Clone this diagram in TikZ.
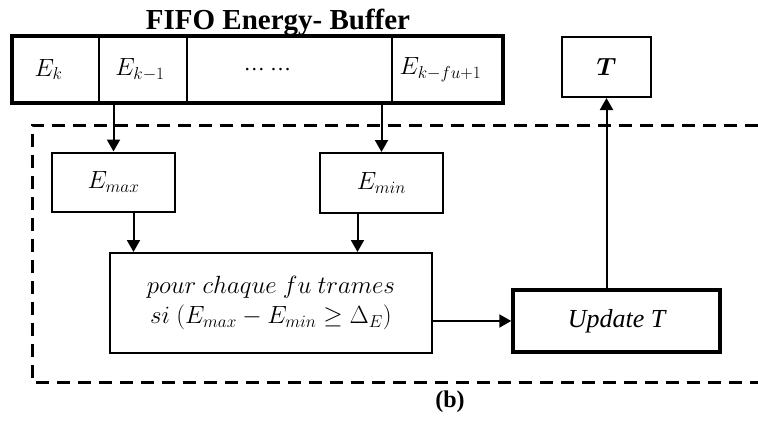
\documentclass[tikz,border=0pt]{standalone}
\usepackage{amsmath}
\usepackage{fontspec}
\setmainfont{Liberation Serif}
\usetikzlibrary{arrows.meta,calc}
\begin{document}
\begin{tikzpicture}[x=1pt,y=-1pt,
  cell/.style={draw,line width=1.5pt,minimum height=67pt,inner sep=0pt,font=\fontsize{24}{28}\selectfont},
  blk/.style={draw,line width=2pt,inner sep=0pt,fill=white},
  arr/.style={line width=2pt,-{Triangle[length=12pt,width=13pt]}},
  bigtxt/.style={font=\fontsize{25}{30}\selectfont}]
\useasboundingbox (0,0) rectangle (758,423);
% dashed processing frame, open on the right
\draw[line width=3pt,dash pattern=on 13pt off 8pt] (758,125) -- (32,125) -- (32,382) -- (758,382);
% title
\node[font=\fontsize{29}{32}\selectfont\bfseries] (title) at (278,22) {FIFO Energy- Buffer};
% energy buffer cells
\node[cell,minimum width=87pt]  (c1) at (55.5,69.5)  {$E_k$\hspace*{14pt}};
\node[cell,minimum width=88pt]  (c2) at (143,69.5)   {$E_{k-1}$\hspace*{6pt}};
\node[cell,minimum width=205pt] (c3) at (289.5,69.5) {\fontsize{21}{24}\selectfont …\ …\hspace*{44pt}};
\node[cell,minimum width=111pt] (c4) at (447.5,69.5) {$E_{k-fu+1}$\hspace*{14pt}};
\node[draw,line width=4pt,minimum width=491pt,minimum height=67pt,inner sep=0pt] (buf) at (257.5,69.5) {};
% output
\node[blk,minimum width=89pt,minimum height=60pt,font=\fontsize{26}{30}\selectfont] (t) at (606.5,67) {$\boldsymbol{T}$};
% extremes
\node[blk,minimum width=123pt,minimum height=59pt,font=\fontsize{27}{30}\selectfont] (emax) at (113.5,182) {$E_{max}$};
\node[blk,minimum width=123pt,minimum height=60pt,font=\fontsize{27}{30}\selectfont] (emin) at (381.5,183) {$E_{min}$};
% condition
\node[blk,minimum width=322pt,minimum height=100pt,bigtxt,align=center] (cond) at (271,303)
  {$pour\ chaque\ fu\ trames$\\[0pt] $si\ (E_{max}-E_{min}\geq\Delta_E)$};
% update
\node[draw,line width=3.5pt,minimum width=207pt,minimum height=62pt,inner sep=0pt,fill=white,
  font=\fontsize{26}{30}\selectfont\itshape] (upd) at (616.5,321) {Update T};
% caption
\node[font=\fontsize{24}{28}\selectfont\bfseries] (cap) at (450,402) {(b)};
% connectors
\draw[arr] (buf.south -| emax.north) -- (emax.north);
\draw[arr] (buf.south -| emin.north) -- (emin.north);
\draw[arr] ([xshift=20pt]emax.south) -- ([xshift=20pt]emax.south |- cond.north);
\draw[arr] ([xshift=-24pt]emin.south) -- ([xshift=-24pt]emin.south |- cond.north);
\draw[arr] (cond.east |- upd.west) -- (upd.west);
\draw[arr] (upd.north -| t.south) -- (t.south);
\end{tikzpicture}
\end{document}
